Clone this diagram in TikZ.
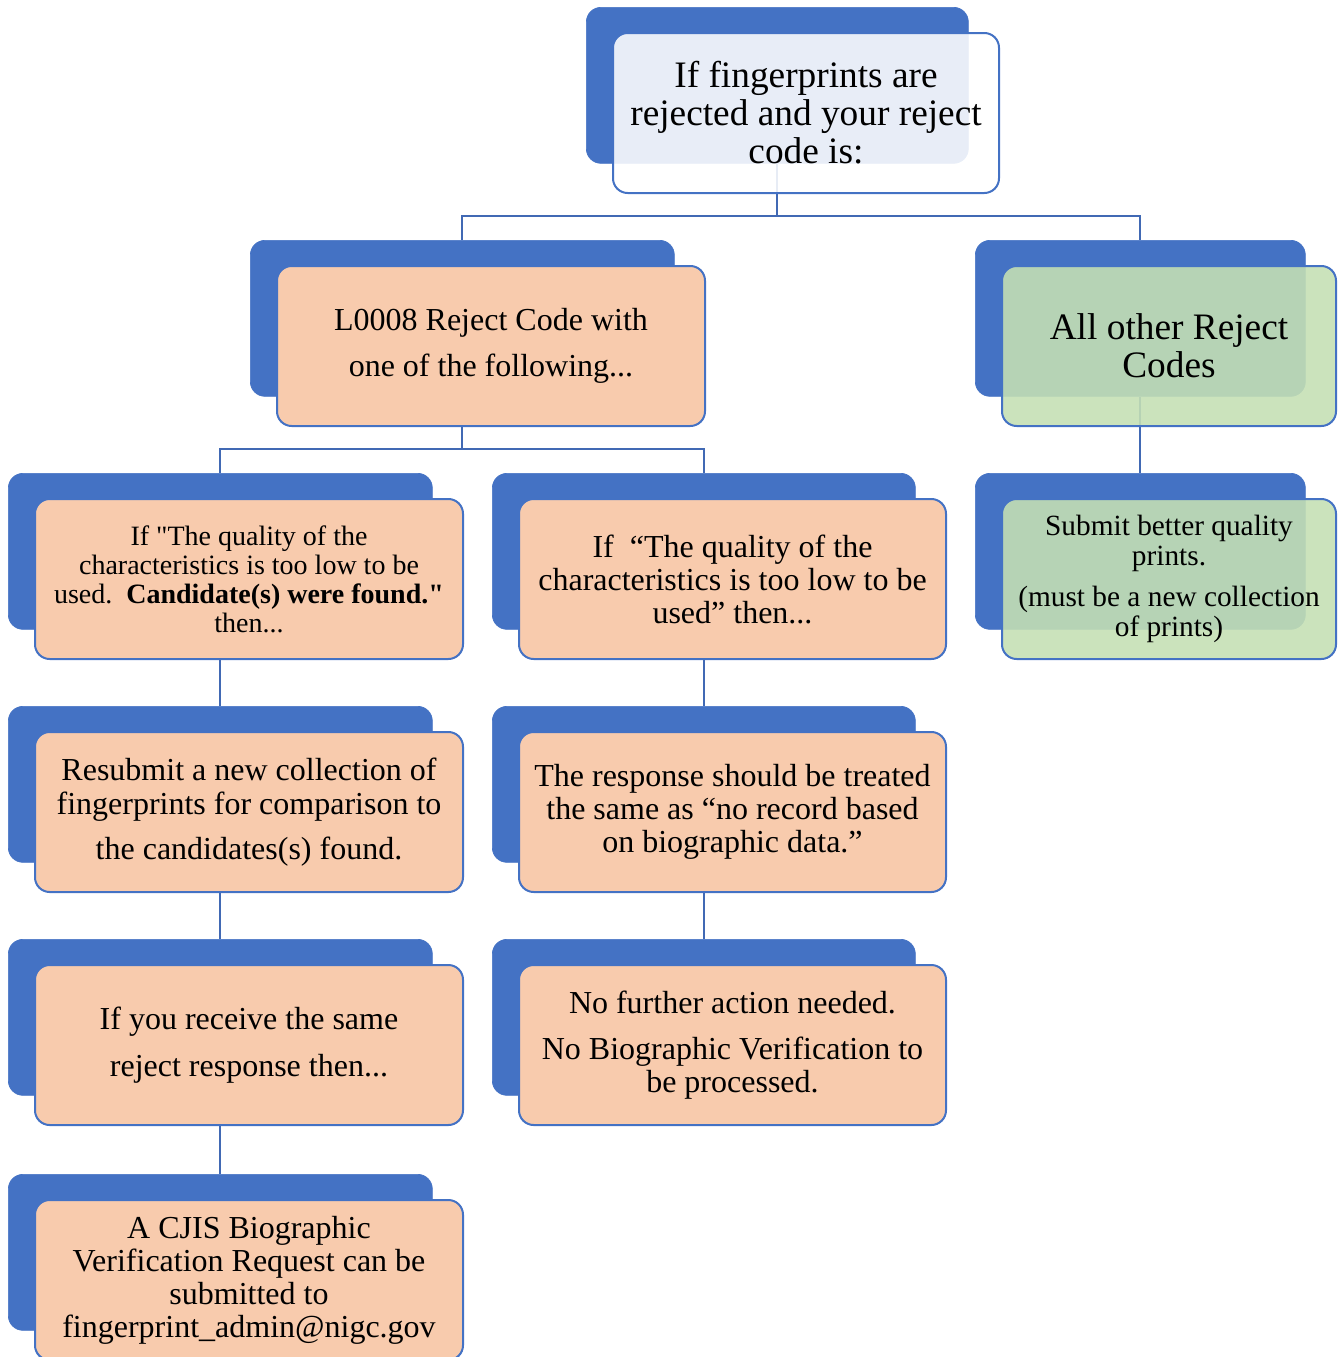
\documentclass[tikz,border=0pt]{standalone}
\usepackage{fontspec}
\setmainfont[Ligatures=TeXOff]{Liberation Serif}
\definecolor{accent}{HTML}{4472C4}
\definecolor{connc}{RGB}{65,105,180}
\definecolor{peach}{HTML}{F8CBAD}
\definecolor{leaf}{HTML}{C5E0B4}
\tikzset{
 backbox/.style={fill=accent, draw=accent, line width=0.5pt, rounded corners=11pt, inner sep=0pt, anchor=north west, minimum height=117pt},
 frontbox/.style={draw=accent, line width=1.5pt, rounded corners=11pt, inner sep=2pt, anchor=north west, minimum height=120pt, align=center, text=black},
 peachbox/.style={frontbox, fill=peach},
 greenbox/.style={frontbox, fill=leaf, fill opacity=0.89, text opacity=1},
 whitebox/.style={frontbox, fill=white, fill opacity=0.88, text opacity=1},
 connector/.style={draw=connc, line width=1.5pt}
}
% name, front left px, front top px, front width px
\newcommand\backat[4]{\node[backbox, minimum width={(#4-4)*0.75pt}] (#1) at ({#2-26},{#3-25}) {};}
% name, front left, front top, width, style, font size, baselineskip, text
\newcommand\frontat[8]{\node[#5, minimum width={#4*0.75pt}, font={\fontsize{#6}{#7}\selectfont}] (#1) at (#2,#3) {#8};}
\begin{document}
\begin{tikzpicture}[x=0.75pt, y=-0.75pt]
\useasboundingbox (0,0) rectangle (1339,1357);
% back boxes
\backat{tb}{612}{32}{386}
\backat{lb}{276}{265}{428}
\backat{rb}{1001}{265}{334}
\backat{aLb}{34}{498}{428}
\backat{aMb}{518}{498}{427}
\backat{aRb}{1001}{498}{334}
\backat{bLb}{34}{731}{428}
\backat{bMb}{518}{731}{427}
\backat{cLb}{34}{964}{428}
\backat{cMb}{518}{964}{427}
\backat{dLb}{34}{1199}{428}
% connectors
\path (tb.south) ++(0,52) coordinate (j1);
\path (lb.south) ++(0,52) coordinate (j2);
\draw[connector] (tb.south) -- (j1);
\draw[connector] (j1) -| (lb.north);
\draw[connector] (j1) -| (rb.north);
\draw[connector] (lb.south) -- (j2);
\draw[connector] (j2) -| (aLb.north);
\draw[connector] (j2) -| (aMb.north);
\draw[connector] (rb.south) -- (aRb.north);
\draw[connector] (aLb.south) -- (bLb.north);
\draw[connector] (bLb.south) -- (cLb.north);
\draw[connector] (cLb.south) -- (dLb.north);
\draw[connector] (aMb.south) -- (bMb.north);
\draw[connector] (bMb.south) -- (cMb.north);
% front boxes
\frontat{tf}{612}{32}{386}{whitebox}{28pt}{28.5pt}{If fingerprints are\\rejected and your reject\\code is:}
\frontat{lf}{276}{265}{428}{peachbox}{24pt}{34.5pt}{L0008 Reject Code with\\one of the following...}
\frontat{rf}{1001}{265}{334}{greenbox}{28pt}{28.5pt}{All other Reject\\Codes}
\frontat{aLf}{34}{498}{428}{peachbox}{21pt}{21.75pt}{If "The quality of the\\characteristics is too low to be\\used.\ \ \textbf{Candidate(s) were found."}\\then...}
\frontat{aMf}{518}{498}{427}{peachbox}{24pt}{24.75pt}{If\ \ “The quality of the\\characteristics is too low to be\\used” then...}
\frontat{aRf}{1001}{498}{334}{greenbox}{22pt}{22.5pt}{Submit better quality\\prints.\\[8.25pt](must be a new collection\\of prints)}
\frontat{bLf}{34}{731}{428}{peachbox}{24pt}{25.5pt}{Resubmit a new collection of\\fingerprints for comparison to\\[8.25pt]the candidates(s) found.}
\frontat{bMf}{518}{731}{427}{peachbox}{24pt}{25pt}{The response should be treated\\the same as “no record based\\on biographic data.”}
\frontat{cLf}{34}{964}{428}{peachbox}{24pt}{35.25pt}{If you receive the same\\reject response then...}
\frontat{cMf}{518}{964}{427}{peachbox}{24pt}{24.75pt}{No further action needed.\\[9.75pt]No Biographic Verification to\\be processed.}
\frontat{dLf}{34}{1199}{428}{peachbox}{24pt}{24.75pt}{A CJIS Biographic\\Verification Request can be\\submitted to\\fingerprint\_admin@nigc.gov}
\end{tikzpicture}
\end{document}
